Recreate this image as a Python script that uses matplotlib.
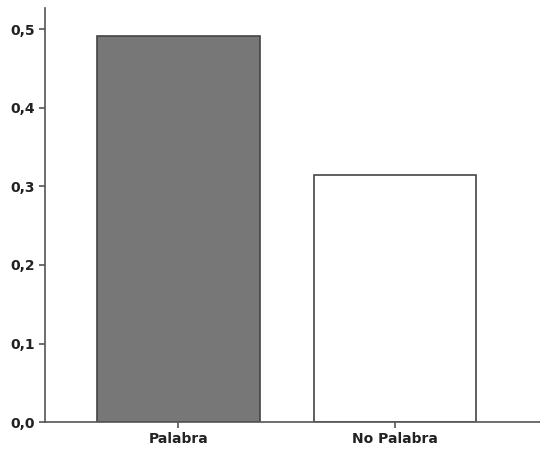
import matplotlib
matplotlib.use("Agg")
from matplotlib import pyplot as plt
from matplotlib.ticker import FuncFormatter

categories = ['Palabra', 'No Palabra']
values = [0.491, 0.314]
colors = ['#777777', '#ffffff']

fig = plt.figure(figsize=(5.4, 4.49), dpi=100)
ax = fig.add_axes([0.084, 0.060, 0.916, 0.922])

ax.bar(range(len(categories)), values, width=0.75, color=colors,
       edgecolor='#444444', linewidth=1.2)

ax.set_xlim(-0.613, 1.668)
ax.set_ylim(0, 0.527)
ax.set_yticks([0, 0.1, 0.2, 0.3, 0.4, 0.5])
ax.yaxis.set_major_formatter(FuncFormatter(lambda v, p: f"{v:.1f}".replace('.', ',')))
ax.set_xticks(range(len(categories)))
ax.set_xticklabels(categories)

for s in ['top', 'right']:
    ax.spines[s].set_visible(False)
for s in ['left', 'bottom']:
    ax.spines[s].set_color('#555555')
    ax.spines[s].set_linewidth(1.2)

ax.tick_params(axis='both', colors='#555555', labelcolor='#222222',
               labelsize=10, width=1.2, length=4)
for lab in ax.get_xticklabels() + ax.get_yticklabels():
    lab.set_fontweight('semibold')

fig.savefig('out.png', dpi=100, facecolor='white')
